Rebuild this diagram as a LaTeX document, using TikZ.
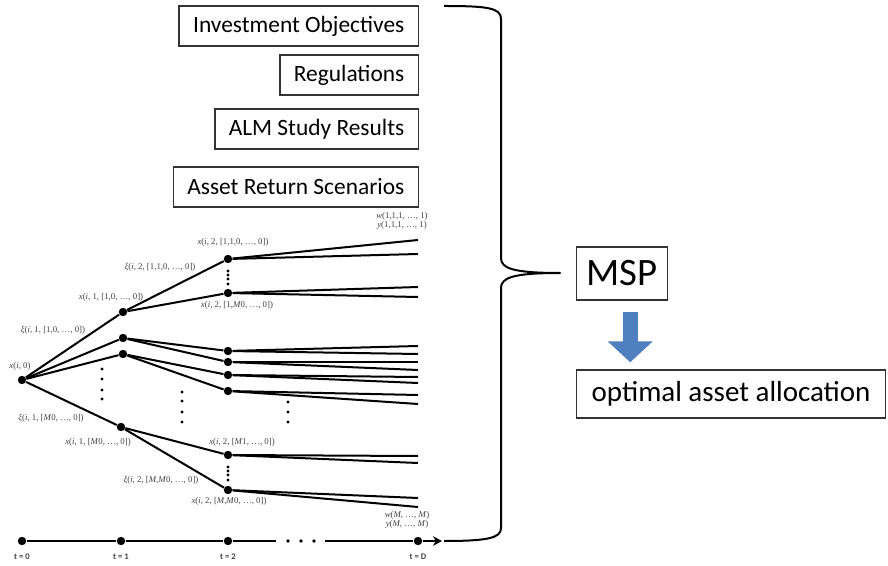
\documentclass[tikz,border=0pt]{standalone}
\usepackage{fontspec}
\usepackage{tikz}
\usetikzlibrary{arrows.meta,positioning}
\newfontfamily\calib{Carlito}
\newfontfamily\lblfont{Liberation Serif}
\definecolor{mspblue}{HTML}{4F7FBF}
\definecolor{lblgray}{HTML}{404040}

\begin{document}
\begin{tikzpicture}[x=0.5pt, y=-0.5pt]
    % Define styles
    \tikzstyle{inbox} = [rectangle, draw=black!80, line width=0.7pt, inner xsep=7pt, minimum height=20pt, anchor=east, font=\calib\fontsize{11.7}{13}\selectfont]
    \tikzstyle{outbox} = [rectangle, draw=black!80, line width=0.7pt, anchor=west, font=\calib\fontsize{14.5}{16}\selectfont]
    \tikzstyle{state} = [circle, fill=black, inner sep=0pt, minimum size=4.2pt]
    \tikzstyle{branch} = [line width=1pt]
    \tikzstyle{axis} = [line width=1.3pt]
    \tikzstyle{lbl} = [text=lblgray, inner sep=0pt, align=center, font=\lblfont\fontsize{4.4}{4.8}\selectfont]
    \tikzstyle{tick} = [text=lblgray, inner sep=0pt, font=\calib\bfseries\fontsize{4.3}{5}\selectfont]
    \tikzstyle{brace} = [line width=1pt, line join=round]
    \tikzstyle{flow} = [mspblue, line width=7.5pt, -{Triangle[width=22pt,length=10.5pt]}, shorten <=5.5pt, shorten >=3.5pt]

    \useasboundingbox (0,0) rectangle (888,566);

    % Inputs
    \node (objectives) [inbox] at (419,26) {Investment Objectives};
    \node (regulations) [inbox] at (419,75) {Regulations};
    \node (almstudy) [inbox] at (419,129) {ALM Study Results};
    \node (scenarios) [inbox] at (419,187) {Asset Return Scenarios};

    % Scenario tree
    \node (root) [state] at (22,380) {};
    \node (a1) [state] at (123,312) {};
    \node (a2) [state] at (123,338) {};
    \node (a3) [state] at (123,354) {};
    \node (a4) [state] at (121,427) {};
    \node (b1) [state] at (228,259) {};
    \node (b2) [state] at (228,293) {};
    \node (b3) [state] at (228,351) {};
    \node (b4) [state] at (228,362) {};
    \node (b5) [state] at (228,375) {};
    \node (b6) [state] at (228,391) {};
    \node (b7) [state] at (228,455) {};
    \node (b8) [state] at (228,490) {};

    \coordinate (l1) at (418,240);  \coordinate (l2) at (418,254);
    \coordinate (l3) at (418,287);  \coordinate (l4) at (418,297);
    \coordinate (l5) at (418,346);  \coordinate (l6) at (418,354);
    \coordinate (l7) at (418,362);  \coordinate (l8) at (418,370);
    \coordinate (l9) at (418,377);  \coordinate (l10) at (418,383);
    \coordinate (l11) at (418,395); \coordinate (l12) at (418,404);
    \coordinate (l13) at (418,456); \coordinate (l14) at (418,463);
    \coordinate (l15) at (418,498); \coordinate (l16) at (418,507);

    \draw [branch] (root) -- (a1);
    \draw [branch] (root) -- (a2);
    \draw [branch] (root) -- (a3);
    \draw [branch] (root) -- (a4);
    \draw [branch] (a1) -- (b1);
    \draw [branch] (a1) -- (b2);
    \draw [branch] (a2) -- (b3);
    \draw [branch] (a2) -- (b4);
    \draw [branch] (a3) -- (b5);
    \draw [branch] (a3) -- (b6);
    \draw [branch] (a4) -- (b7);
    \draw [branch] (a4) -- (b8);
    \draw [branch] (b1) -- (l1);  \draw [branch] (b1) -- (l2);
    \draw [branch] (b2) -- (l3);  \draw [branch] (b2) -- (l4);
    \draw [branch] (b3) -- (l5);  \draw [branch] (b3) -- (l6);
    \draw [branch] (b4) -- (l7);  \draw [branch] (b4) -- (l8);
    \draw [branch] (b5) -- (l9);  \draw [branch] (b5) -- (l10);
    \draw [branch] (b6) -- (l11); \draw [branch] (b6) -- (l12);
    \draw [branch] (b7) -- (l13); \draw [branch] (b7) -- (l14);
    \draw [branch] (b8) -- (l15); \draw [branch] (b8) -- (l16);

    % vertical dots
    \foreach \x/\y in {102/369, 102/379, 102/390, 102/399,
                       182/392, 182/401, 182/412, 182/422,
                       288/402, 288/412, 288/422,
                       228/271, 228/275, 228/279, 228/284,
                       228/467, 228/471, 228/475, 228/480}
        \fill (\x,\y) circle (0.85pt);

    % Tree labels
    \node [lbl] at (20,366) {\textit{x}(\textit{i}, 0)};
    \node [lbl] at (53,330) {\textit{ξ}(\textit{i}, 1, [1,0, …, 0])};
    \node [lbl] at (111,297) {\textit{x}(\textit{i}, 1, [1,0, …, 0])};
    \node [lbl] at (160,267) {\textit{ξ}(\textit{i}, 2, [1,1,0, …, 0])};
    \node [lbl] at (233,242) {\textit{x}(\textit{i}, 2, [1,1,0, …, 0])};
    \node [lbl] at (237,305) {\textit{x}(\textit{i}, 2, [1,\textit{M}0, …, 0])};
    \node [lbl] at (51,418) {\textit{ξ}(\textit{i}, 1, [\textit{M}0, …, 0])};
    \node [lbl] at (98,442) {\textit{x}(\textit{i}, 1, [\textit{M}0, …, 0])};
    \node [lbl] at (242,442) {\textit{x}(\textit{i}, 2, [\textit{M}1, …, 0])};
    \node [lbl] at (161,480) {\textit{ξ}(\textit{i}, 2, [\textit{M},\textit{M}0, …, 0])};
    \node [lbl] at (229,501) {\textit{x}(\textit{i}, 2, [\textit{M},\textit{M}0, …, 0])};
    \node [lbl] at (402,221) {\textit{w}(1,1,1, …, 1)\\\textit{y}(1,1,1, …, 1)};
    \node [lbl] at (407,520) {\textit{w}(\textit{M}, …, \textit{M})\\\textit{y}(\textit{M}, …, \textit{M})};

    % Time axis
    \node (t0) [state] at (22,541) {};
    \node (t1) [state] at (121,541) {};
    \node (t2) [state] at (228,541) {};
    \node (tD) [state] at (418,541) {};
    \coordinate (gapL) at (276,541);
    \coordinate (gapR) at (325,541);
    \coordinate (tend) at (442,541);
    \draw [axis] (t0) -- (t1) -- (t2) -- (gapL);
    \draw [axis, -{Stealth[length=4.5pt,width=4.8pt]}] (gapR) -- (tD) -- (tend);
    \fill (288,541) circle (0.9pt) (301,541) circle (0.9pt) (314,541) circle (0.9pt);
    \node [tick, below=4pt of t0] {t = 0};
    \node [tick, below=4pt of t1] {t = 1};
    \node [tick, below=4pt of t2] {t = 2};
    \node [tick, below=4pt of tD] {t = D};

    % Brace
    \coordinate (tip) at (560,273);
    \draw [brace] (444,6) .. controls (488,6) and (501,8) .. (501,19) -- (501,258)
        .. controls (501,268) and (512,273) .. (tip)
        .. controls (512,273) and (501,278) .. (501,288) -- (501,528)
        .. controls (501,538) and (488,541) .. (444,541);

    % Outputs
    \node (msp) [outbox, inner xsep=5pt, minimum height=26.5pt, font=\calib\fontsize{19.4}{21}\selectfont] at (576,273.5) {MSP};
    \node (alloc) [outbox, inner xsep=7.5pt, minimum height=24pt] at (576,394) {optimal asset allocation};
    \draw [flow] ([xshift=4pt]msp.south) -- ([xshift=4pt]msp.south |- alloc.north);
\end{tikzpicture}
\end{document}
